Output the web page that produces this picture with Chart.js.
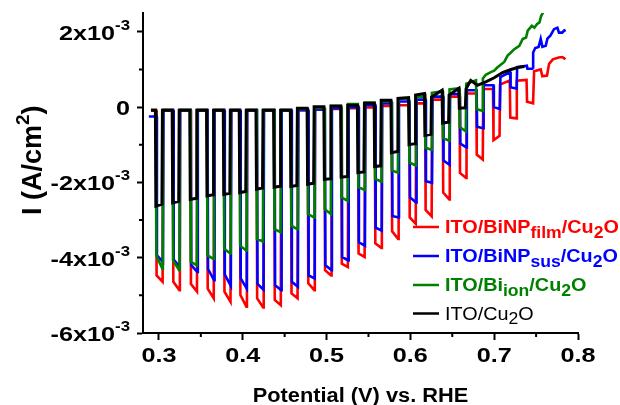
<!DOCTYPE html>
<html lang="en">
<head>
    <meta charset="UTF-8">
    <title>Chopped light LSV - Cu2O photocathodes</title>
    <script src="https://cdn.jsdelivr.net/npm/chart.js"></script>
    <style>
        html, body { margin: 0; padding: 0; background: #fff; }
        canvas { display: block; }
    </style>
</head>
<body>
    <canvas id="lsvChart" width="620" height="405"></canvas>

    <script>
        // ------------------------------------------------
        // Data. Currents are in units of 10^-3 A/cm2,
        // potentials in V vs. RHE.
        // ------------------------------------------------
        const xTickValues = [0.3, 0.4, 0.5, 0.6, 0.7, 0.8];
        const xTickLabels = ['0.3', '0.4', '0.5', '0.6', '0.7', '0.8'];
        const yTickValues = [-6, -4, -2, 0, 2];
        const yTickLabels = ['-6', '-4', '-2', '0', '2'];

        // centre of each light-on pulse (chopped illumination)
        const pulseCenters = [0.300, 0.320, 0.341, 0.361, 0.381, 0.400, 0.420, 0.441, 0.461, 0.481, 0.501, 0.521,
                              0.541, 0.561, 0.581, 0.602, 0.621, 0.642, 0.662, 0.682, 0.702, 0.722, 0.742];

        // ITO/Cu2O (black)
        const blackDark    = [-0.08, -0.08, -0.08, -0.08, -0.08, -0.08, -0.08, -0.08, -0.08, -0.03, 0.01, 0.03, 0.05, 0.10, 0.18, 0.23, 0.32, 0.27, 0.32];
        const blackDarkEnd = [-0.08, -0.08, -0.08, -0.08, -0.08, -0.08, -0.08, -0.08, -0.08, -0.03, 0.01, 0.03, 0.05, 0.10, 0.18, 0.25, 0.36, 0.45, 0.50];
        const blackOnStart = [-2.63, -2.54, -2.45, -2.36, -2.32, -2.27, -2.18, -2.13, -2.11, -2.05, -1.92, -1.86, -1.74, -1.58, -1.21, -1.00, -0.75, -0.42, -0.03];
        const blackOnEnd   = [-2.58, -2.50, -2.42, -2.33, -2.29, -2.24, -2.15, -2.10, -2.08, -2.02, -1.90, -1.84, -1.72, -1.56, -1.18, -0.97, -0.72, -0.40, -0.02];
        const blackTailX   = [0.6665, 0.672, 0.680, 0.690, 0.700, 0.710, 0.720, 0.728, 0.736];
        const blackTailY   = [0.49, 0.71, 0.58, 0.67, 0.78, 0.92, 1.00, 1.05, 1.08];

        // ITO/Bi_ion/Cu2O (green)
        const greenDark    = [-0.08, -0.08, -0.08, -0.08, -0.08, -0.08, -0.08, -0.08, -0.08, -0.05, -0.02, 0.03, 0.08, 0.12, 0.15, 0.23, 0.28, 0.38, 0.47, 0.62];
        const greenDarkEnd = [-0.08, -0.08, -0.08, -0.08, -0.08, -0.08, -0.08, -0.08, -0.08, -0.05, -0.02, 0.03, 0.08, 0.12, 0.15, 0.23, 0.28, 0.42, 0.50, 0.71];
        const greenOnStart = [-3.94, -4.07, -4.11, -3.94, -3.76, -3.68, -3.50, -3.24, -3.15, -2.84, -2.71, -2.40, -2.12, -1.90, -1.68, -1.47, -1.08, -0.82, -0.53, -0.05];
        const greenOnEnd   = [-4.29, -4.33, -4.20, -4.03, -3.89, -3.81, -3.57, -3.32, -3.24, -2.93, -2.84, -2.49, -2.20, -1.98, -1.74, -1.55, -1.13, -0.89, -0.64, -0.10];
        const greenTailX   = [0.6865, 0.690, 0.696, 0.700, 0.704, 0.712, 0.716, 0.720, 0.724, 0.730, 0.734, 0.738, 0.740, 0.745, 0.748, 0.751, 0.754, 0.756, 0.758, 0.761];
        const greenTailY   = [0.76, 0.86, 0.93, 0.97, 1.06, 1.20, 1.37, 1.45, 1.54, 1.63, 1.81, 1.85, 2.03, 2.16, 2.11, 2.20, 2.25, 2.42, 2.50, 2.70];

        // ITO/BiNP_sus/Cu2O (blue)
        const blueDark    = [-0.25, -0.08, -0.08, -0.08, -0.08, -0.08, -0.08, -0.08, -0.08, -0.08, -0.06, -0.03, 0.00, 0.05, 0.10, 0.15, 0.20, 0.28, 0.35, 0.45, 0.58, 0.80, 1.06];
        const blueDarkEnd = [-0.25, -0.08, -0.08, -0.08, -0.08, -0.08, -0.08, -0.08, -0.08, -0.08, -0.06, -0.03, 0.00, 0.05, 0.10, 0.15, 0.20, 0.28, 0.35, 0.45, 0.58, 0.93, 1.10];
        const blueOnStart = [-3.94, -4.05, -4.20, -4.30, -4.45, -4.55, -4.70, -4.73, -4.64, -4.47, -4.20, -3.98, -3.59, -3.20, -2.89, -2.40, -1.97, -1.42, -0.97, -0.52, 0.00, 0.53, 1.02];
        const blueOnEnd   = [-4.11, -4.25, -4.38, -4.60, -4.75, -4.82, -4.85, -4.86, -4.77, -4.55, -4.33, -4.07, -3.68, -3.28, -2.93, -2.53, -2.01, -1.53, -1.07, -0.56, -0.05, 0.49, 1.02];
        const blueTailX   = [0.7465, 0.749, 0.753, 0.7555, 0.7575, 0.7615, 0.7635, 0.767, 0.7714, 0.7754, 0.7773, 0.7813, 0.7833, 0.7853];
        const blueTailY   = [1.45, 1.57, 1.60, 1.81, 1.60, 1.63, 1.82, 1.90, 2.07, 2.11, 1.98, 1.98, 2.03, 2.05];

        // ITO/BiNP_film/Cu2O (red)
        const redDark    = [-0.08, -0.08, -0.08, -0.08, -0.08, -0.08, -0.08, -0.08, -0.08, -0.08, -0.07, -0.05, -0.03, -0.01, 0.03, 0.05, 0.10, 0.20, 0.28, 0.36, 0.48, 0.60, 0.70];
        const redDarkEnd = [-0.08, -0.08, -0.08, -0.08, -0.08, -0.08, -0.08, -0.08, -0.08, -0.08, -0.07, -0.05, -0.03, -0.01, 0.03, 0.05, 0.10, 0.20, 0.28, 0.36, 0.48, 0.71, 0.72];
        const redOnStart = [-4.47, -4.64, -4.70, -4.82, -4.90, -4.99, -5.08, -5.12, -4.95, -4.68, -4.33, -4.16, -3.89, -3.62, -3.30, -2.93, -2.73, -2.27, -1.75, -1.26, -0.88, -0.28, 0.14];
        const redOnEnd   = [-4.64, -4.86, -4.90, -5.08, -5.17, -5.30, -5.32, -5.26, -5.08, -4.86, -4.47, -4.25, -3.98, -3.74, -3.50, -3.10, -2.90, -2.45, -1.88, -1.39, -0.76, -0.30, 0.10];
        const redTailX   = [0.7476, 0.7555, 0.7575, 0.763, 0.7655, 0.770, 0.777, 0.781, 0.7833, 0.785];
        const redTailY   = [0.95, 1.00, 0.82, 0.84, 1.15, 1.27, 1.32, 1.33, 1.30, 1.27];

        // legend text pieces: [text, isSubscript]
        const legendRed   = [['ITO/BiNP', false], ['film', true], ['/Cu', false], ['2', true], ['O', false]];
        const legendBlue  = [['ITO/BiNP', false], ['sus', true], ['/Cu', false], ['2', true], ['O', false]];
        const legendGreen = [['ITO/Bi', false], ['ion', true], ['/Cu', false], ['2', true], ['O', false]];
        const legendBlack = [['ITO/Cu', false], ['2', true], ['O', false]];

        const FONT = '"Liberation Sans", Arial, sans-serif';

        // ------------------------------------------------
        // builds the chopped-light trace from the levels read for each pulse
        function chopped(shift, startV, dark, darkEnd, onStart, onEnd, tailX, tailY) {
            const pts = [{ x: startV, y: dark[0] }];
            for (let k = 0; k < onStart.length; k++) {
                const c = pulseCenters[k] + shift;
                pts.push({ x: c - 0.0042, y: darkEnd[k] });
                pts.push({ x: c - 0.0036, y: onStart[k] });
                pts.push({ x: c + 0.0036, y: onEnd[k] });
                if (k + 1 < onStart.length) pts.push({ x: c + 0.0042, y: dark[k + 1] });
            }
            tailX.forEach((x, i) => pts.push({ x: x, y: tailY[i] }));
            return pts;
        }

        // draws a run of text pieces, horizontally stretched by sx
        function drawPieces(ctx, pieces, x, y, sx, align) {
            let total = 0;
            pieces.forEach(p => {
                ctx.font = p.font;
                p.w = ctx.measureText(p.t).width * sx;
                total += p.w;
            });
            let cx = align === 'right' ? x - total : (align === 'center' ? x - total / 2 : x);
            pieces.forEach(p => {
                ctx.save();
                ctx.font = p.font;
                ctx.fillStyle = p.color || '#000';
                ctx.textAlign = 'left';
                ctx.textBaseline = 'alphabetic';
                ctx.translate(cx, y + (p.dy || 0));
                ctx.scale(sx, 1);
                ctx.fillText(p.t, 0, 0);
                ctx.restore();
                cx += p.w;
            });
        }

        const textPlugin = {
            id: 'textPlugin',
            afterDraw(chart) {
                const ctx = chart.ctx;
                const xs = chart.scales.x;
                const ys = chart.scales.y;
                const area = chart.chartArea;

                // minor ticks
                ctx.save();
                ctx.strokeStyle = '#000';
                ctx.lineWidth = 2;
                ctx.beginPath();
                for (let i = 0; i < xTickValues.length - 1; i++) {
                    const px = xs.getPixelForValue((xTickValues[i] + xTickValues[i + 1]) / 2);
                    ctx.moveTo(px, area.bottom);
                    ctx.lineTo(px, area.bottom + 4);
                }
                for (let i = 0; i < yTickValues.length - 1; i++) {
                    const py = ys.getPixelForValue((yTickValues[i] + yTickValues[i + 1]) / 2);
                    ctx.moveTo(area.left, py);
                    ctx.lineTo(area.left - 4, py);
                }
                ctx.stroke();
                ctx.restore();

                // y tick labels  (Nx10^-3)
                yTickValues.forEach((v, i) => {
                    const py = ys.getPixelForValue(v);
                    const pieces = v === 0
                        ? [{ t: yTickLabels[i], font: 'bold 21px ' + FONT }]
                        : [{ t: yTickLabels[i] + 'x10', font: 'bold 21px ' + FONT },
                           { t: '-3', font: 'bold 14px ' + FONT, dy: -10 }];
                    drawPieces(ctx, pieces, 130, py + 8, 1.2, 'right');
                });

                // x tick labels
                xTickValues.forEach((v, i) => {
                    const px = xs.getPixelForValue(v);
                    drawPieces(ctx, [{ t: xTickLabels[i], font: 'bold 21px ' + FONT }], px, 361.5, 1.2, 'center');
                });

                // x title
                drawPieces(ctx, [{ t: 'Potential (V) vs. RHE', font: 'bold 20px ' + FONT }],
                           (area.left + area.right) / 2, 402, 1.09, 'center');

                // y title, rotated
                ctx.save();
                ctx.translate(41, 215);
                ctx.rotate(-Math.PI / 2);
                drawPieces(ctx, [
                    { t: 'I (A/cm', font: 'bold 27px ' + FONT },
                    { t: '2', font: 'bold 19px ' + FONT, dy: -12 },
                    { t: ')', font: 'bold 27px ' + FONT }
                ], 0, 0, 1, 'left');
                ctx.restore();

                // legend
                const rows = [
                    { parts: legendRed, color: '#ff0000', weight: 'bold', y: 227 },
                    { parts: legendBlue, color: '#0000ff', weight: 'bold', y: 256 },
                    { parts: legendGreen, color: '#008000', weight: 'bold', y: 285 },
                    { parts: legendBlack, color: '#000000', weight: 'normal', y: 313.5 }
                ];
                rows.forEach(r => {
                    ctx.save();
                    ctx.strokeStyle = r.color;
                    ctx.lineWidth = 2.5;
                    ctx.beginPath();
                    ctx.moveTo(413, r.y);
                    ctx.lineTo(439, r.y);
                    ctx.stroke();
                    ctx.restore();
                    const pieces = r.parts.map(p => ({
                        t: p[0],
                        font: r.weight + (p[1] ? ' 16px ' : ' 18px ') + FONT,
                        dy: p[1] ? 4.5 : 0,
                        color: r.color
                    }));
                    drawPieces(ctx, pieces, 445, r.y + 6, 1.1, 'left');
                });
            }
        };

        window.onload = () => {
            const datasets = [
                { label: 'ITO/Cu2O', color: '#000000', width: 3,
                  data: chopped(0, 0.2905, blackDark, blackDarkEnd, blackOnStart, blackOnEnd, blackTailX, blackTailY) },
                { label: 'ITO/Bi_ion/Cu2O', color: '#008000', width: 2.6,
                  data: chopped(0.0005, 0.2905, greenDark, greenDarkEnd, greenOnStart, greenOnEnd, greenTailX, greenTailY) },
                { label: 'ITO/BiNP_sus/Cu2O', color: '#0000ff', width: 2.6,
                  data: chopped(0.0012, 0.288, blueDark, blueDarkEnd, blueOnStart, blueOnEnd, blueTailX, blueTailY) },
                { label: 'ITO/BiNP_film/Cu2O', color: '#ff0000', width: 2.6,
                  data: chopped(0.0008, 0.2905, redDark, redDarkEnd, redOnStart, redOnEnd, redTailX, redTailY) }
            ].map(d => ({
                label: d.label,
                data: d.data,
                borderColor: d.color,
                borderWidth: d.width,
                pointRadius: 0,
                tension: 0,
                fill: false
            }));

            new Chart(document.getElementById('lsvChart'), {
                type: 'line',
                data: { datasets: datasets },
                options: {
                    responsive: false,
                    animation: false,
                    devicePixelRatio: 1,
                    parsing: true,
                    layout: { padding: { left: 0, right: 42, top: 13, bottom: 0 } },
                    plugins: { legend: { display: false }, tooltip: { enabled: false } },
                    scales: {
                        x: {
                            type: 'linear',
                            min: 0.281,
                            max: 0.8,
                            afterBuildTicks: s => { s.ticks = xTickValues.map(v => ({ value: v })); },
                            afterFit: s => { s.height = 72; },
                            ticks: { display: false },
                            grid: { drawOnChartArea: false, drawTicks: true, tickLength: 7, tickWidth: 2, tickColor: '#000' },
                            border: { display: true, color: '#000', width: 2 }
                        },
                        y: {
                            type: 'linear',
                            min: -6,
                            max: 2.5,
                            afterBuildTicks: s => { s.ticks = yTickValues.map(v => ({ value: v })); },
                            afterFit: s => { s.width = 143; },
                            ticks: { display: false },
                            grid: { drawOnChartArea: false, drawTicks: true, tickLength: 6, tickWidth: 2, tickColor: '#000' },
                            border: { display: true, color: '#000', width: 2 }
                        }
                    }
                },
                plugins: [textPlugin]
            });
        };
    </script>
</body>
</html>
